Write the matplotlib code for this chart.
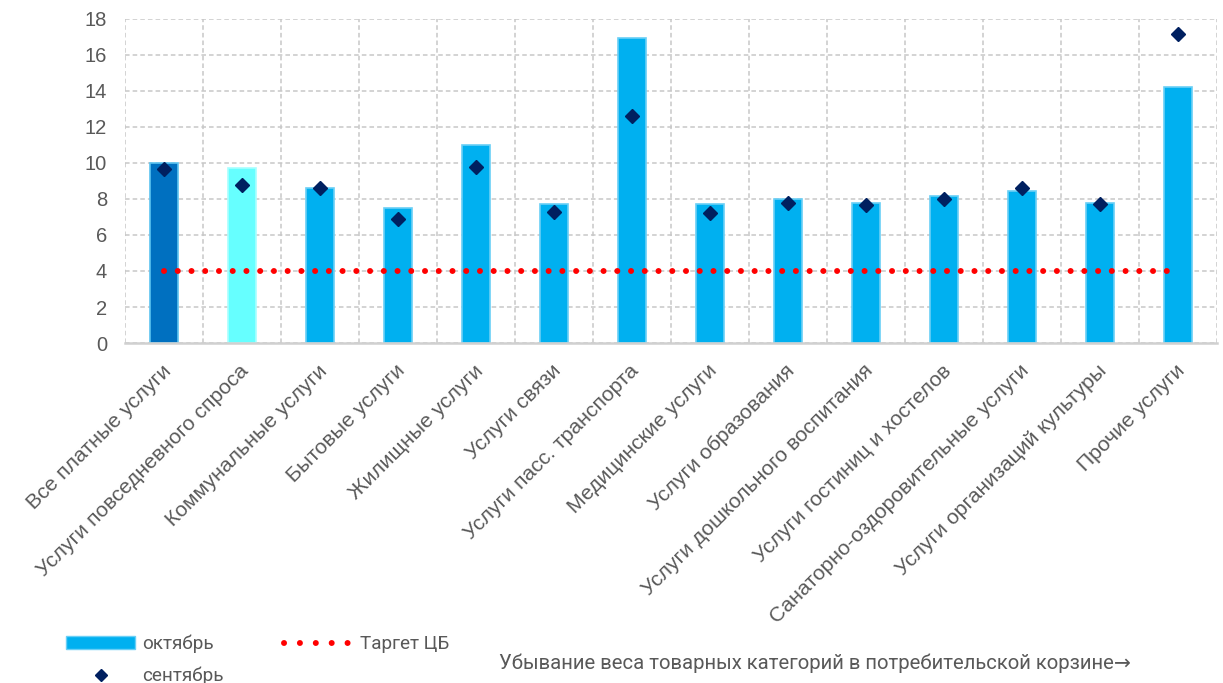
import numpy as np
import matplotlib
matplotlib.use("Agg")
import matplotlib.pyplot as plt
from matplotlib.lines import Line2D
from matplotlib.patches import Patch
from matplotlib.transforms import ScaledTranslation

# категории услуг (по убыванию веса в корзине)
categories = [
    "Все платные услуги",
    "Услуги повседневного спроса",
    "Коммунальные услуги",
    "Бытовые услуги",
    "Жилищные услуги",
    "Услуги связи",
    "Услуги пасс. транспорта",
    "Медицинские услуги",
    "Услуги образования",
    "Услуги дошкольного воспитания",
    "Услуги гостиниц и хостелов",
    "Санаторно-оздоровительные услуги",
    "Услуги организаций культуры",
    "Прочие услуги",
]
october = [10.0, 9.7, 8.6, 7.5, 11.0, 7.7, 16.95, 7.7, 8.0, 7.8, 8.15, 8.45, 7.8, 14.2]
september = [9.65, 8.75, 8.6, 6.9, 9.75, 7.3, 12.6, 7.2, 7.8, 7.65, 8.0, 8.6, 7.7, 17.15]
target = 4
yticks = list(range(0, 19, 2))

bar_colors = ["#0070C0", "#66FFFF"] + ["#00B0F0"] * (len(categories) - 2)
edge_colors = ["#5CC3F0", "#A8FFFF"] + ["#6ACFF6"] * (len(categories) - 2)
gray_text = "#595959"

fig = plt.figure(figsize=(12.23, 6.83), dpi=100)
ax = fig.add_axes([0.1022, 0.4978, 0.8928, 0.4744])

x = np.arange(len(categories))
ax.bar(x, october, width=0.36, color=bar_colors, edgecolor=edge_colors,
       linewidth=1.2, zorder=2)
ax.plot(x, september, linestyle="none", marker="D", markersize=7.3,
        color="#002060", zorder=4)
ax.plot([x[0], x[-1]], [target, target], color="#FF0000", linewidth=4.3,
        linestyle=(0, (0.01, 2.29)), dash_capstyle="round", zorder=3)

ax.set_xlim(-0.5, len(categories) - 0.5)
ax.set_ylim(0, 18)
ax.set_yticks(yticks)
ax.set_yticklabels([str(v) for v in yticks], fontsize=14.5,
                   family="Liberation Sans", color=gray_text)
ax.set_xticks(x)
ax.set_xticklabels(categories, rotation=45, ha="right", va="center",
                   rotation_mode="anchor", fontsize=15.2,
                   family="Liberation Sans", color=gray_text)
ax.set_xticks(np.arange(-0.5, len(categories), 1), minor=True)
ax.tick_params(axis="both", which="both", length=0)
ax.tick_params(axis="y", pad=13)
ax.tick_params(axis="x", pad=18)
for lbl in ax.get_xticklabels():
    lbl.set_transform(lbl.get_transform() + ScaledTranslation(0.04, 0, fig.dpi_scale_trans))

ax.grid(axis="y", which="major", color="#C8C8C8", linestyle=(0, (3, 2)), linewidth=1.1, zorder=0)
ax.grid(axis="x", which="minor", color="#C8C8C8", linestyle=(0, (3, 2)), linewidth=1.1, zorder=0)
ax.grid(axis="x", which="major", visible=False)
ax.set_axisbelow(True)
for side in ["top", "right", "left"]:
    ax.spines[side].set_visible(False)
ax.spines["bottom"].set_color("#D0D0D0")
ax.spines["bottom"].set_linewidth(1.8)

handles = [
    Patch(facecolor="#00B0F0", edgecolor="#6ACFF6"),
    Line2D([], [], linestyle="none", marker="D", markersize=6, color="#002060"),
    Line2D([], [], color="#FF0000", linewidth=4.3,
           linestyle=(0, (0.01, 2.65)), dash_capstyle="round"),
]
labels = ["октябрь", "сентябрь", "Таргет ЦБ"]
fig.legend(handles, labels, loc="upper left", bbox_to_anchor=(0.054, 0.0706),
           ncol=2, frameon=False, borderpad=0, borderaxespad=0,
           handlelength=3.65, handleheight=0.65,
           handletextpad=0.37, labelspacing=0.7, columnspacing=3.2,
           prop={"family": "Roboto", "size": 13.6}, labelcolor=gray_text)

fig.text(0.408, 0.029, "Убывание веса товарных категорий в потребительской корзине\u2192",
         family=["Roboto", "DejaVu Sans"], fontsize=14.55, color=gray_text,
         ha="left", va="center")

fig.savefig("out.png", dpi=100)
